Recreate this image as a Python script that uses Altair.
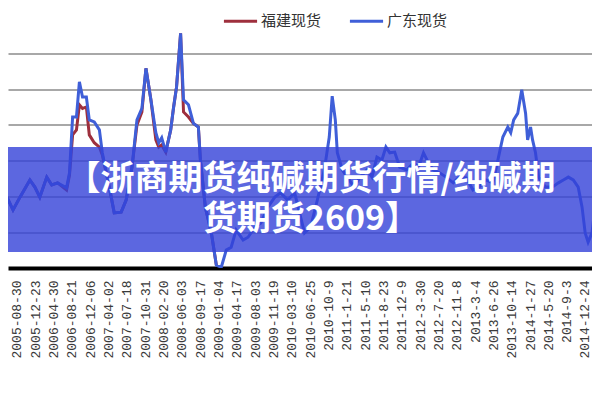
import json
import altair as alt
import pandas as pd

# ---- data ----
x_labels = ["2005-05-10", "2005-08-30", "2005-12-23", "2006-04-30", "2006-08-21",
            "2006-12-06", "2007-04-02", "2007-07-18", "2007-10-31", "2008-02-20",
            "2008-06-03", "2008-09-17", "2009-01-04", "2009-04-17", "2009-08-03",
            "2009-11-19", "2010-03-10", "2010-06-25", "2010-10-9", "2011-1-21",
            "2011-5-10", "2011-8-23", "2011-12-9", "2012-3-30", "2012-7-20",
            "2012-11-8", "2013-3-4", "2013-6-26", "2013-10-14", "2014-1-27",
            "2014-5-20", "2014-9-3", "2014-12-24"]

series_names = ["福建现货", "广东现货"]
series_colors = ["#9e2f3d", "#3f5fd8"]

# position along the date axis, in units of tick-label intervals
guangdong_t = [0.10, 0.80, 1.18, 1.72, 1.99, 2.26, 2.64, 2.91, 3.23, 3.72, 3.88, 4.05, 4.26,
               4.42, 4.59, 4.80, 4.96, 5.23, 5.51, 5.67, 6.05, 6.32, 6.70, 6.97, 7.29, 7.56,
               7.83, 8.05, 8.32, 8.59, 8.75, 8.91, 9.13, 9.40, 9.56, 9.72, 9.94, 10.10,
               10.37, 10.64, 10.91, 11.02, 11.29, 11.62, 11.89, 12.16, 12.43, 12.70, 12.97,
               13.35, 13.62, 13.99, 14.32, 14.70, 15.08, 15.40, 15.78, 16.16, 16.70, 17.03,
               17.40, 17.78, 18.05, 18.21, 18.38, 18.49, 18.76, 19.03, 19.41, 19.73, 20.11,
               20.38, 20.65, 20.92, 21.14, 21.35, 21.62, 21.89, 22.27, 22.65, 22.92, 23.19,
               23.46, 23.73, 24.06, 24.43, 24.81, 25.14, 25.52, 25.89, 26.22, 26.60, 26.98,
               27.25, 27.52, 27.79, 27.95, 28.11, 28.33, 28.55, 28.76, 28.87, 29.03, 29.14,
               29.30, 29.47, 29.84, 30.22, 30.55, 30.82, 31.09, 31.36, 31.63, 31.84, 32.01,
               32.17, 32.38, 32.55]
guangdong_v = [1595, 1405, 1495, 1615, 1565, 1495, 1635, 1580, 1595, 1560, 1665, 2055, 2055,
               2300, 2195, 2195, 2035, 2020, 1965, 1805, 1565, 1385, 1390, 1475, 1705, 2035,
               2115, 2395, 2175, 1945, 1875, 1910, 1810, 1965, 2125, 2265, 2640, 2175,
               2140, 2010, 1985, 1755, 1425, 1245, 1020, 1005, 1125, 1145, 1265,
               1195, 1215, 1285, 1315, 1425, 1495, 1525, 1475, 1525, 1245, 1285,
               1475, 1685, 1915, 2200, 2035, 1805, 1685, 1635, 1565, 1635, 1685,
               1635, 1775, 1755, 1845, 1805, 1810, 1705, 1685, 1735, 1705, 1805,
               1735, 1685, 1665, 1635, 1595, 1635, 1630, 1545, 1565, 1615, 1595,
               1755, 1915, 1985, 1945, 2035, 2080, 2245, 2080, 1895, 1985, 1895,
               1805, 1635, 1565, 1565, 1595, 1615, 1635, 1615, 1565, 1425, 1245,
               1180, 1245, 1425]

fujian_t = [0.10, 0.80, 1.18, 1.72, 1.99, 2.26, 2.64, 2.91, 3.23, 3.72, 3.88, 4.05, 4.26,
            4.42, 4.59, 4.80, 4.96, 5.23, 5.51, 5.67, 6.05, 6.32, 6.70, 6.97, 7.29, 7.56,
            7.83, 8.05, 8.32, 8.59, 8.75, 8.91, 9.13, 9.40, 9.56, 9.72, 9.94, 10.10,
            10.37, 10.64, 10.91, 11.02, 11.29, 11.62, 11.89]
fujian_v = [1595, 1405, 1495, 1615, 1565, 1495, 1635, 1580, 1595, 1545, 1650, 1930, 1965,
            2140, 2115, 2125, 1930, 1875, 1845, 1790, 1565, 1385, 1390, 1475, 1705, 2000,
            2090, 2395, 2175, 1895, 1845, 1860, 1810, 1965, 2125, 2265, 2640, 2090,
            2055, 2010, 1985, 1755, 1425, 1245, 1020]

y_grid = [1250, 1500, 1750, 2000, 2250, 2500]
y_domain = [1000, 2750]
x_domain = [0.5254, 32.382]

banner_lines = ["【浙商期货纯碱期货行情/纯碱期", "货期货2609】"]

# ---- tables ----
df_gd = pd.DataFrame({"t": guangdong_t, "v": guangdong_v, "series": series_names[1]})
df_fj = pd.DataFrame({"t": fujian_t, "v": fujian_v, "series": series_names[0]})

label_expr = json.dumps(x_labels, ensure_ascii=False) + "[round(datum.value)]"

x_enc = alt.X(
    "t:Q",
    scale=alt.Scale(domain=x_domain, nice=False, zero=False),
    axis=alt.Axis(values=list(range(1, len(x_labels))), labelExpr=label_expr,
                  labelAngle=270, labelFlush=False, labelOverlap=False, labelBound=False,
                  ticks=False, grid=False, domainColor="#000000", domainWidth=4,
                  labelPadding=12, labelFont="Liberation Mono", labelFontSize=13,
                  labelColor="#3a3a3a", title=None),
)
y_enc = alt.Y(
    "v:Q",
    scale=alt.Scale(domain=y_domain, nice=False, zero=False),
    axis=alt.Axis(values=y_grid, labels=False, ticks=False, domain=False, title=None,
                  gridColor="#a8a8a8", gridWidth=2),
)
color_enc = alt.Color(
    "series:N",
    scale=alt.Scale(domain=series_names, range=series_colors),
    legend=alt.Legend(orient="none", legendX=214, legendY=-15, direction="horizontal",
                      title=None, symbolType="stroke", symbolSize=1100,
                      symbolStrokeWidth=3, labelFontSize=15, labelFont="Noto Sans CJK SC",
                      labelColor="#333333", columnPadding=21, labelOffset=2),
)

red_line = alt.Chart(df_fj).mark_line(strokeWidth=3, clip=True).encode(
    x=x_enc, y=y_enc, color=color_enc)
blue_line = alt.Chart(df_gd).mark_line(strokeWidth=3, clip=True).encode(
    x=x_enc, y=y_enc, color=color_enc)

one = pd.DataFrame({"k": [0]})
banner = alt.Chart(one).mark_rect(color="#3341d8", opacity=0.8).encode(
    x=alt.value(0), x2=alt.value(584), y=alt.value(129.5), y2=alt.value(234.5))
banner_text = alt.Chart(one).mark_text(
    font="Noto Sans CJK SC", fontSize=34, fontWeight="bold", color="white",
    align="center", baseline="middle", lineHeight=40,
).encode(x=alt.value(303), y=alt.value(162.5), text=alt.value(banner_lines))

chart = alt.layer(red_line, blue_line, banner, banner_text).properties(
    width=584, height=250.5,
    autosize=alt.AutoSizeParams(type="none"),
    padding={"left": 0, "top": 9.5, "right": 0, "bottom": 100},
    background="white",
).configure_view(stroke=None)

chart.save("out.html", embed_options={"renderer": "svg", "actions": False})
